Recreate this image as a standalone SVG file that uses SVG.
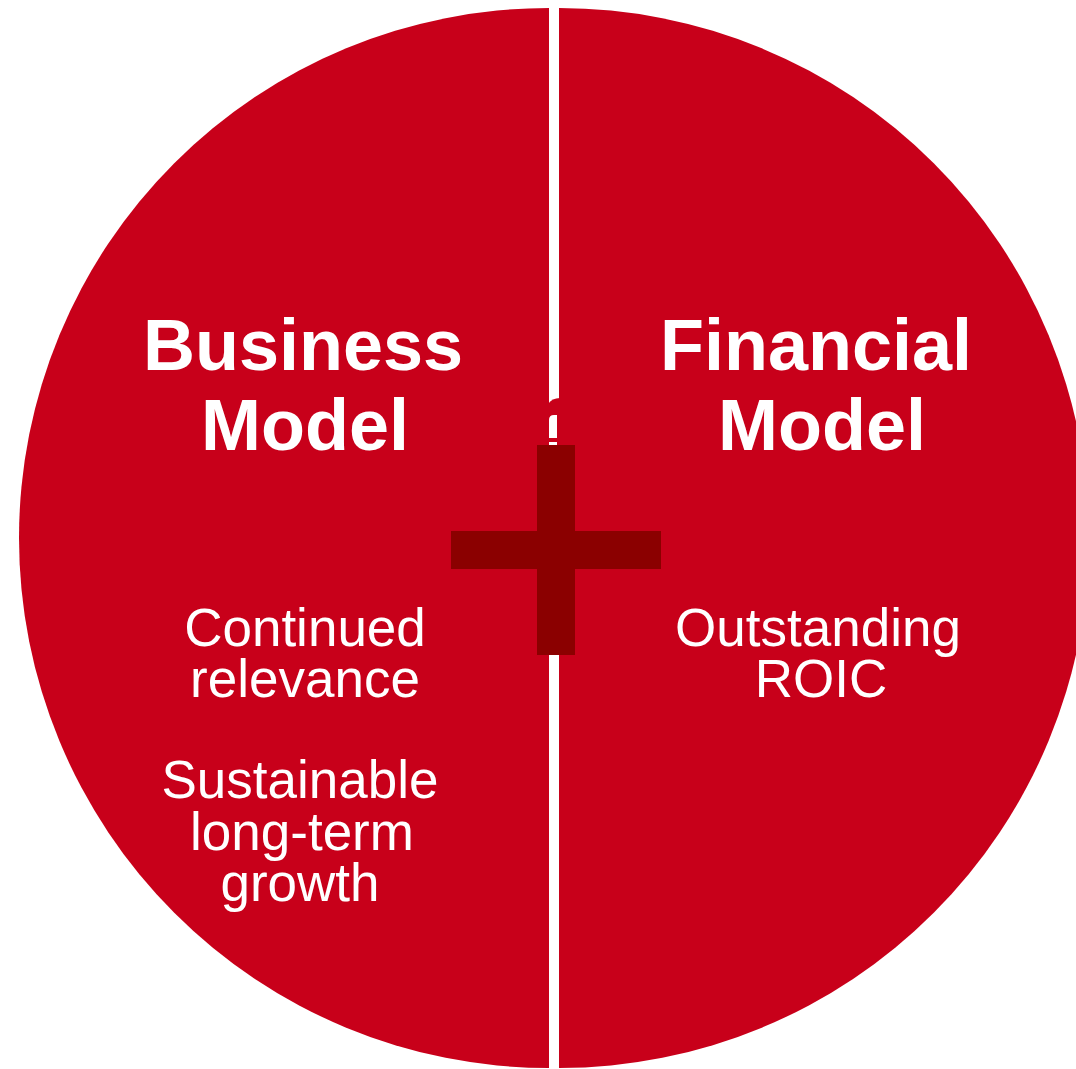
<svg xmlns="http://www.w3.org/2000/svg" width="1076" height="1069" viewBox="0 0 1076 1069">
  <style>
    .half { fill: #C8001A; }
    .head { font-family: "Liberation Sans", Arial, sans-serif; font-weight: bold; font-size: 72px; fill: #FFFFFF; text-anchor: middle; }
    .body { font-family: "Liberation Sans", Arial, sans-serif; font-size: 53px; fill: #FFFFFF; text-anchor: middle; }
    .plus { fill: #8B0000; }
  </style>
  <rect width="1076" height="1069" fill="#FFFFFF"/>

  <!-- left half: business model -->
  <g id="business-model">
    <path class="half" d="M549,8 A530,530 0 0 0 549,1068 Z"/>
    <text class="head" x="303" y="370">Business</text>
    <text class="head" x="305" y="450">Model</text>
    <text class="body" x="305" y="646">Continued</text>
    <text class="body" x="305" y="697">relevance</text>
    <text class="body" x="300" y="798">Sustainable</text>
    <text class="body" x="302" y="850">long-term</text>
    <text class="body" x="300" y="901">growth</text>
  </g>

  <!-- right half: financial model -->
  <g id="financial-model">
    <path class="half" d="M559,8 A530,530 0 0 1 559,1068 Z"/>
    <text class="head" x="816" y="370">Financial</text>
    <text class="head" x="822" y="450">Model</text>
    <text class="body" x="818" y="646">Outstanding</text>
    <text class="body" x="821" y="697">ROIC</text>
  </g>

  <!-- bridge across the divider above the plus -->
  <g id="bridge">
    <path class="half" d="M548,404 Q552,398 560,398 L560,446 L548,446 Z"/>
    <path fill="#FFFFFF" d="M549,438 L549,420 Q549,415 554,415 L557,415 L557,438 Z"/>
    <rect fill="#FFFFFF" x="549" y="442" width="8" height="3"/>
  </g>

  <!-- plus sign joining both halves -->
  <g id="plus">
    <rect class="plus" x="537" y="445" width="38" height="210"/>
    <rect class="plus" x="451" y="531" width="210" height="38"/>
  </g>
</svg>
